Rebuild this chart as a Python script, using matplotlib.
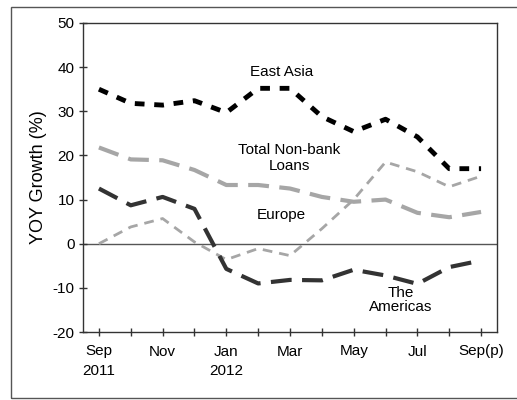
import matplotlib
matplotlib.use("Agg")
import matplotlib.pyplot as plt
from matplotlib.patches import Rectangle

plt.rcParams['font.family'] = ['Liberation Sans', 'DejaVu Sans']
plt.rcParams['axes.unicode_minus'] = False

months = ["Sep 2011", "Oct 2011", "Nov 2011", "Dec 2011", "Jan 2012", "Feb 2012",
          "Mar 2012", "Apr 2012", "May 2012", "Jun 2012", "Jul 2012", "Aug 2012", "Sep 2012"]
tick_labels = ["Sep\n2011", "", "Nov\n", "", "Jan\n2012", "", "Mar\n", "", "May\n", "", "Jul\n", "", "Sep(p)\n"]

east_asia = [35.0, 31.8, 31.4, 32.4, 29.7, 35.2, 35.2, 28.8, 25.4, 28.2, 24.2, 17.0, 17.0]
total_nonbank = [21.8, 19.1, 18.9, 16.7, 13.3, 13.3, 12.5, 10.6, 9.5, 10.0, 7.0, 6.0, 7.2]
dark_series = [12.5, 8.7, 10.6, 7.9, -5.7, -9.0, -8.2, -8.3, -5.9, -7.2, -9.1, -5.3, -3.8]
light_dotted = [0.0, 3.8, 5.7, 0.4, -3.6, -1.1, -2.7, 3.4, 10.0, 18.5, 16.3, 12.9, 15.3]

fig = plt.figure(figsize=(5.17, 4.0), dpi=100)
ax = fig.add_axes([83/517, 68/400, 414/517, 309/400])

fig.patches.append(Rectangle((11/517, 2/400), 1.05, 391/400, transform=fig.transFigure,
                             fill=False, edgecolor='#555555', linewidth=1.0, zorder=0))

x = list(range(len(months)))
ax.axhline(0, color='#555555', linewidth=1.0, zorder=1)
ax.plot(x, light_dotted, color='#a6a6a6', linewidth=2.0, dashes=(3.5, 2.5), zorder=2)
ax.plot(x, total_nonbank, color='#a6a6a6', linewidth=3.0, dashes=(5, 2.5), zorder=3)
ax.plot(x, dark_series, color='#333333', linewidth=3.0, dashes=(5, 2.5), zorder=4)
ax.plot(x, east_asia, color='#000000', linewidth=3.5, dashes=(2, 2), zorder=5)

ax.set_xlim(-0.5, 12.5)
ax.set_ylim(-20, 50)
ax.set_yticks(range(-20, 51, 10))
ax.set_xticks(x)
ax.set_xticklabels(tick_labels, fontsize=11, linespacing=1.5)
ax.tick_params(axis='both', direction='inout', length=6, width=1, color='#333333', labelsize=11)
ax.tick_params(axis='x', pad=6)
ax.tick_params(axis='y', pad=3)
for sp in ax.spines.values():
    sp.set_color('#333333')
    sp.set_linewidth(1.0)

ax.set_ylabel("YOY Growth (%)", fontsize=13, labelpad=4)

ax.text(5.75, 39.0, "East Asia", fontsize=11, ha='center', va='center')
ax.text(5.97, 19.5, "Total Non-bank\nLoans", fontsize=11, ha='center', va='center', linespacing=1.2)
ax.text(5.72, 6.4, "Europe", fontsize=11, ha='center', va='center')
ax.text(9.47, -12.8, "The\nAmericas", fontsize=11, ha='center', va='center', linespacing=1.05)

fig.savefig("out.png", dpi=100)
